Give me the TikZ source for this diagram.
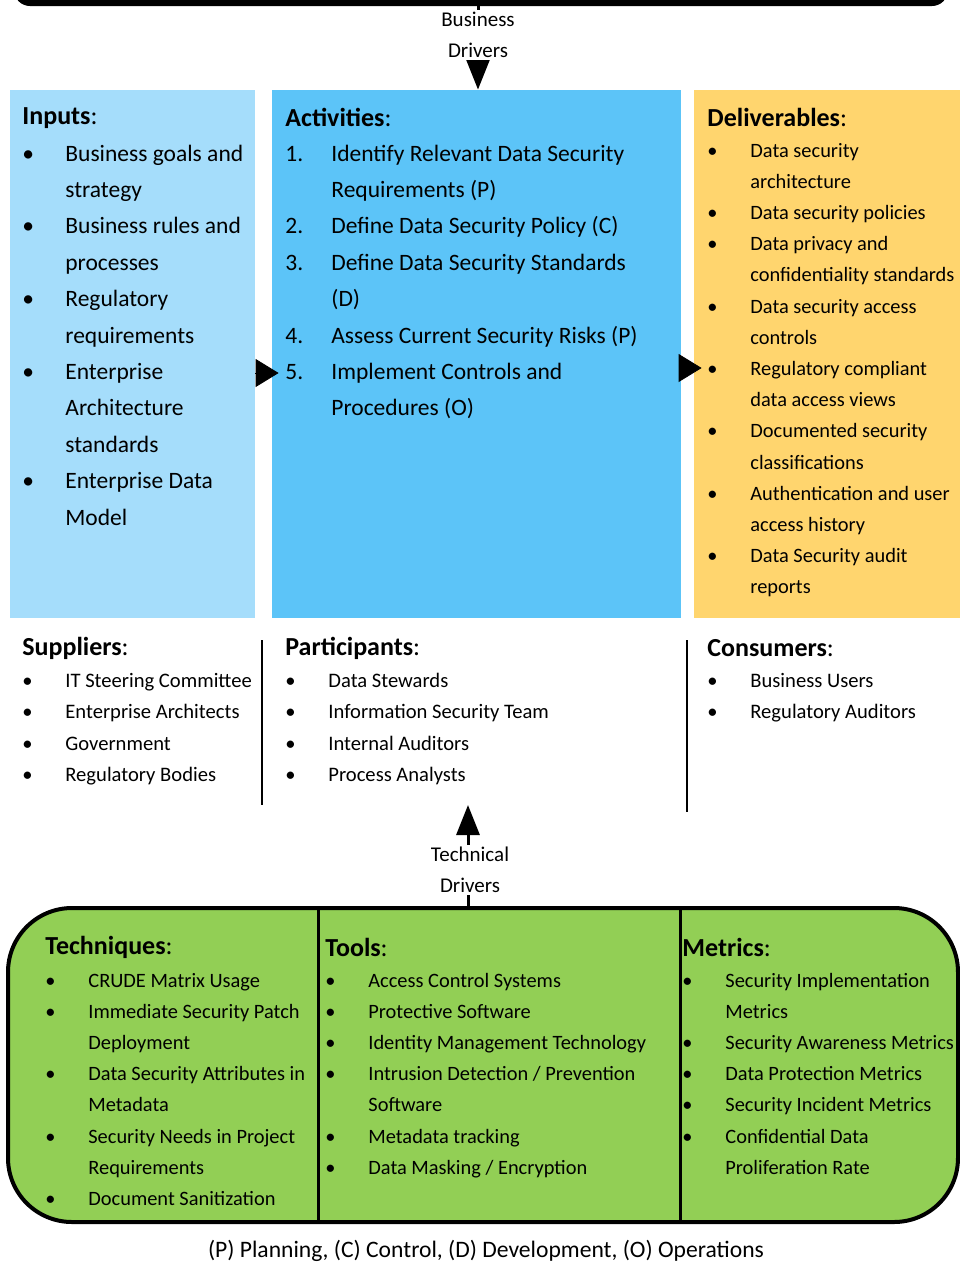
\documentclass[tikz,border=0pt]{standalone}
\usepackage{fontspec}
\setmainfont{Carlito}
\usepackage{xcolor}
\usetikzlibrary{arrows.meta}

\definecolor{inblue}{HTML}{A5DDFB}
\definecolor{actblue}{HTML}{5CC4F8}
\definecolor{delyellow}{HTML}{FFD56E}
\definecolor{toolgreen}{HTML}{92CF55}

\newcommand{\hdsize}{\fontsize{13}{15}\selectfont}
\newcommand{\lst}[1]{\begin{tabular}[t]{@{}l@{}}#1\end{tabular}}
\newcommand{\bitem}[1]{\makebox[21.5pt][l]{\textbullet}#1}
\newcommand{\bcont}[1]{\hspace*{21.5pt}#1}
\newcommand{\nitem}[2]{\makebox[23pt][l]{#1}#2}
\newcommand{\ncont}[1]{\hspace*{23pt}#1}

\begin{document}
\begin{tikzpicture}[x=0.5pt, y=-0.5pt,
  box/.style={rectangle, inner sep=0pt},
  heading/.style={anchor=west, inner sep=0pt, font=\hdsize},
  biglist/.style={anchor=base west, inner sep=0pt, font=\fontsize{11.75}{18.2}\selectfont},
  smalllist/.style={anchor=base west, inner sep=0pt, font=\fontsize{10.2}{15.6}\selectfont},
  driver/.style={fill=white, align=center, inner sep=1pt, font=\fontsize{10.5}{15.5}\selectfont},
  drvarrow/.style={line width=1.5pt, -{Triangle[length=15pt, width=11.5pt]}},
  sidearrow/.style={-{Triangle[length=11.5pt, width=14pt]}},
  divider/.style={line width=1pt}]
  \useasboundingbox (0,0) rectangle (960,1266);

  % Strategy bar (cut off at the top)
  \fill[rounded corners=8pt] (14,-30) rectangle (948,6);
  \coordinate (bizsrc) at (478,6);

  % Inputs / Activities / Deliverables
  \node[box, fill=inblue, minimum width=122.5pt, minimum height=264pt] (inputs) at (132.5,354) {};
  \node[box, fill=actblue, minimum width=204.5pt, minimum height=264pt] (activities) at (476.5,354) {};
  \node[box, fill=delyellow, minimum width=133pt, minimum height=264pt] (deliverables) at (827,354) {};

  \node[heading] (inhead) at (22,118) {\textbf{Inputs}:};
  \node[biglist] (inlist) at (22,161) {\lst{%
    \bitem{Business goals and}\\ \bcont{strategy}\\
    \bitem{Business rules and}\\ \bcont{processes}\\
    \bitem{Regulatory}\\ \bcont{requirements}\\
    \bitem{Enterprise}\\ \bcont{Architecture}\\ \bcont{standards}\\
    \bitem{Enterprise Data}\\ \bcont{Model}}};

  \node[heading] (acthead) at (285,117) {\textbf{Activities}:};
  \node[biglist] (actlist) at (285,161) {\lst{%
    \nitem{1.}{Identify Relevant Data Security}\\ \ncont{Requirements (P)}\\
    \nitem{2.}{Define Data Security Policy (C)}\\
    \nitem{3.}{Define Data Security Standards}\\ \ncont{(D)}\\
    \nitem{4.}{Assess Current Security Risks (P)}\\
    \nitem{5.}{Implement Controls and}\\ \ncont{Procedures (O)}}};

  \node[heading] (delhead) at (707,117) {\textbf{Deliverables}:};
  \node[smalllist] (dellist) at (707,157) {\lst{%
    \bitem{Data security}\\ \bcont{architecture}\\
    \bitem{Data security policies}\\
    \bitem{Data privacy and}\\ \bcont{confidentiality standards}\\
    \bitem{Data security access}\\ \bcont{controls}\\
    \bitem{Regulatory compliant}\\ \bcont{data access views}\\
    \bitem{Documented security}\\ \bcont{classifications}\\
    \bitem{Authentication and user}\\ \bcont{access history}\\
    \bitem{Data Security audit}\\ \bcont{reports}}};

  \draw[sidearrow] ([yshift=-9.5pt]inputs.east) -- ([yshift=-9.5pt, xshift=3.5pt]activities.west);
  \draw[sidearrow] ([yshift=-7pt]activities.east) -- ([yshift=-7pt, xshift=4pt]deliverables.west);

  % Business drivers
  \draw[drvarrow] (bizsrc) -- (activities.north -| bizsrc);
  \node[driver] (bizdrv) at (478,35) {Business\\Drivers};

  % Suppliers / Participants / Consumers
  \node[heading] (suphead) at (22,648) {\textbf{Suppliers}:};
  \node[smalllist, font=\fontsize{10.3}{15.8}\selectfont] (suplist) at (22,687) {\lst{%
    \bitem{IT Steering Committee}\\ \bitem{Enterprise Architects}\\
    \bitem{Government}\\ \bitem{Regulatory Bodies}}};
  \draw[divider] (262,640) -- (262,805);

  \node[heading] (parthead) at (285,648) {\textbf{Participants}:};
  \node[smalllist, font=\fontsize{10.3}{15.8}\selectfont] (partlist) at (285,687) {\lst{%
    \bitem{Data Stewards}\\ \bitem{Information Security Team}\\
    \bitem{Internal Auditors}\\ \bitem{Process Analysts}}};
  \draw[divider] (687,640) -- (687,812);

  \node[heading] (conhead) at (707,648) {\textbf{Consumers}:};
  \node[smalllist, font=\fontsize{10.3}{15.8}\selectfont] (conlist) at (707,687) {\lst{%
    \bitem{Business Users}\\ \bitem{Regulatory Auditors}}};

  % Techniques / Tools / Metrics
  \node[box, draw, line width=2pt, fill=toolgreen, rounded corners=32pt,
        minimum width=475pt, minimum height=157pt] (toolbox) at (483,1065) {};
  \draw[line width=1.5pt] (318,908) -- (318,1222);
  \draw[line width=1.5pt] (680,908) -- (680,1222);

  \node[heading] (techhead) at (45,947) {\textbf{Techniques}:};
  \node[smalllist] (techlist) at (45,987) {\lst{%
    \bitem{CRUDE Matrix Usage}\\
    \bitem{Immediate Security Patch}\\ \bcont{Deployment}\\
    \bitem{Data Security Attributes in}\\ \bcont{Metadata}\\
    \bitem{Security Needs in Project}\\ \bcont{Requirements}\\
    \bitem{Document Sanitization}}};

  \node[heading] (toolhead) at (325,947) {\textbf{Tools}:};
  \node[smalllist] (toollist) at (325,987) {\lst{%
    \bitem{Access Control Systems}\\
    \bitem{Protective Software}\\
    \bitem{Identity Management Technology}\\
    \bitem{Intrusion Detection / Prevention}\\ \bcont{Software}\\
    \bitem{Metadata tracking}\\
    \bitem{Data Masking / Encryption}}};

  \node[heading] (methead) at (682,947) {\textbf{Metrics}:};
  \node[smalllist] (metlist) at (682,987) {\lst{%
    \bitem{Security Implementation}\\ \bcont{Metrics}\\
    \bitem{Security Awareness Metrics}\\
    \bitem{Data Protection Metrics}\\
    \bitem{Security Incident Metrics}\\
    \bitem{Confidential Data}\\ \bcont{Proliferation Rate}}};

  % Technical drivers
  \coordinate (techtip) at (468,805);
  \draw[drvarrow] (toolbox.north -| techtip) -- (techtip);
  \node[driver] (techdrv) at (470,870) {Technical\\Drivers};

  % Legend
  \node[font=\fontsize{11.8}{14}\selectfont] (legend) at (486,1251)
    {(P) Planning, (C) Control, (D) Development, (O) Operations};
\end{tikzpicture}
\end{document}
